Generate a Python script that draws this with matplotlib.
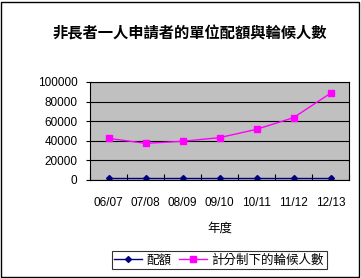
import matplotlib
matplotlib.use("Agg")
import matplotlib.pyplot as plt
from matplotlib.patches import Rectangle

plt.rcParams['font.family'] = ['Liberation Sans', 'Noto Sans CJK TC']

years = ['06/07', '07/08', '08/09', '09/10', '10/11', '11/12', '12/13']
quota = [2000, 2000, 2000, 2000, 2000, 2000, 2000]
waiting = [42500, 37400, 39500, 43200, 51700, 63600, 88500]
yticks = [0, 20000, 40000, 60000, 80000, 100000]

fig = plt.figure(figsize=(3.61, 2.78), dpi=100)
fig.patches.append(Rectangle((0.004, 0.004), 0.99, 0.99, transform=fig.transFigure,
                             fill=False, edgecolor='black', linewidth=1))

# plot area in pixels: x 90..349, y 82..180 (from top)
W, H = 361, 278
ax = fig.add_axes([90 / W, 1 - 180 / H, 259 / W, 98 / H])
ax.set_facecolor('#c0c0c0')
for s in ax.spines.values():
    s.set_color('black')
    s.set_linewidth(0.8)

x = list(range(len(years)))
ax.plot(x, quota, color='#000080', marker='D', markersize=3, linewidth=1, label='配額')
ax.plot(x, waiting, color='#ff00ff', marker='s', markersize=4, linewidth=1, label='計分制下的輪候人數')

ax.set_xlim(-0.5, 6.5)
ax.set_ylim(0, 100000)
ax.set_yticks(yticks)
ax.set_yticklabels([str(v) for v in yticks], fontsize=8.5)
ax.yaxis.grid(True, color='black', linewidth=0.8)
ax.set_axisbelow(True)
ax.tick_params(axis='y', length=3, pad=6)

ax.set_xticks([i + 0.5 for i in range(-1, 7)], minor=False)
ax.set_xticklabels([])
ax.tick_params(axis='x', length=4, direction='in')
for i, lab in enumerate(years):
    ax.text(i, -17000, lab, ha='center', va='top', fontsize=8.5)

fig.text(190 / W, 1 - 34 / H, '非長者一人申請者的單位配額與輪候人數', ha='center', va='center',
         fontsize=11, fontweight='bold', family='Noto Sans CJK TC')
fig.text(220 / W, 1 - 228 / H, '年度', ha='center', va='center', fontsize=9,
         family='Noto Sans CJK TC')

leg = fig.legend(loc='center', bbox_to_anchor=(219 / W, 1 - 260 / H), ncol=2,
                 frameon=True, fancybox=False, edgecolor='black', handlelength=2.2,
                 columnspacing=0.6, handletextpad=0.4, borderpad=0.2,
                 prop={'family': 'Noto Sans CJK TC', 'size': 9})
leg.get_frame().set_linewidth(0.8)

fig.savefig('out.png', dpi=100)
